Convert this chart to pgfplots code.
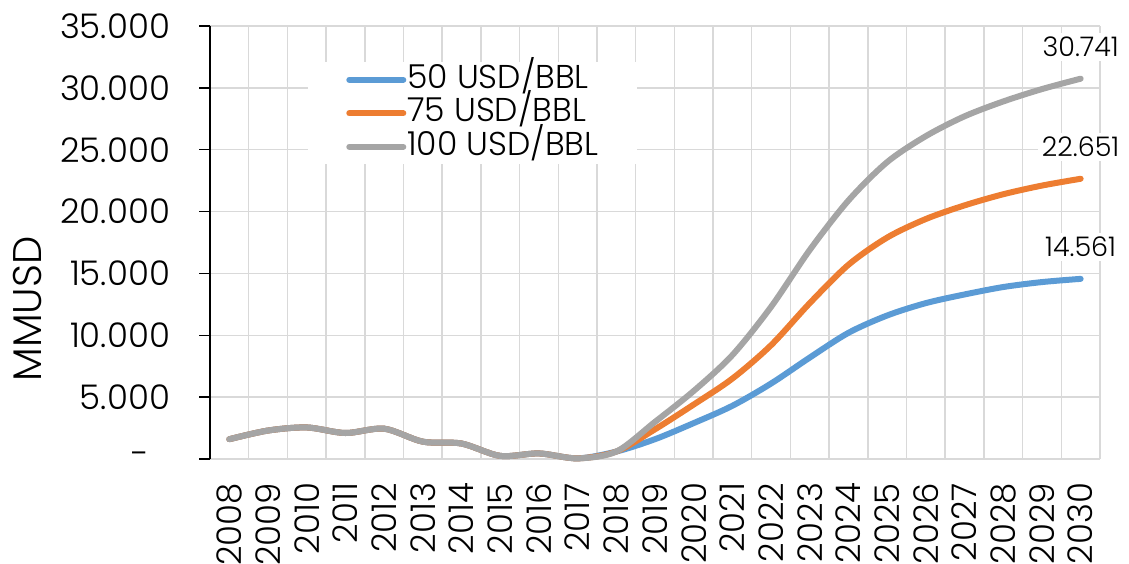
\documentclass[border=0pt]{standalone}
\usepackage{fontspec}
\IfFontExistsTF{Poppins Light}{\setmainfont{Poppins Light}}{\setmainfont{Poppins}}
\usepackage{pgfplots}
\usepackage{pgfplotstable}
\pgfplotsset{compat=1.18}

\definecolor{s50}{HTML}{5B9BD5}
\definecolor{s75}{HTML}{ED7D31}
\definecolor{s100}{HTML}{A5A5A5}
\definecolor{gridc}{HTML}{D9D9D9}

% MMUSD by year for each oil price scenario
\pgfplotstableread{
year p50 p75 p100
2008 1600 1600 1600
2009 2300 2300 2300
2010 2550 2550 2550
2011 2100 2100 2100
2012 2450 2450 2450
2013 1400 1400 1400
2014 1250 1250 1250
2015 250 250 250
2016 450 450 450
2017 50 50 50
2018 600 600 600
2019 1600 2400 3000
2020 2900 4400 5500
2021 4300 6500 8400
2022 6100 9200 12300
2023 8200 12600 16900
2024 10200 15700 20900
2025 11600 17900 24000
2026 12600 19400 26100
2027 13300 20500 27700
2028 13900 21400 28900
2029 14300 22100 29900
2030 14561 22651 30741
}\capex

\begin{document}
\begin{tikzpicture}
\begin{axis}[
  scale only axis, width=445pt, height=216.5pt,
  xmin=2007.5, xmax=2030.5, ymin=0, ymax=35000,
  clip=false,
  scaled y ticks=false,
  /pgf/number format/assume math mode=true,
  axis x line=bottom, axis y line=left,
  x axis line style={gridc, line width=0.75pt, -},
  y axis line style={black, line width=0.75pt, -},
  xtick={2008,2009,...,2030},
  minor xtick={2008.5,2009.5,2010.5,2011.5,2012.5,2013.5,2014.5,2015.5,2016.5,2017.5,2018.5,2019.5,2020.5,2021.5,2022.5,2023.5,2024.5,2025.5,2026.5,2027.5,2028.5,2029.5,2030.5},
  xtick style={draw=none},
  xmajorgrids=false, xminorgrids=true, ymajorgrids=true,
  major grid style={gridc, line width=0.75pt},
  minor grid style={gridc, line width=0.75pt},
  ytick={0,5000,...,35000},
  yticklabels={-\hphantom{0},5.000,10.000,15.000,20.000,25.000,30.000,35.000},
  ytick style={black, line width=0.75pt},
  tick align=outside, major tick length=5.5pt,
  yticklabel style={font=\fontsize{17}{19}\selectfont},
  yticklabel shift=11pt,
  xticklabel style={rotate=90, anchor=east, font=\fontsize{17}{19}\selectfont, /pgf/number format/1000 sep={}},
  xticklabel shift=3pt,
  ylabel={MMUSD},
  ylabel style={at={(axis description cs:-0.2056,0.346)}, anchor=center, font=\fontsize{20}{23}\selectfont},
  legend style={draw=none, fill=white, at={(0.11,0.917)}, anchor=north west,
    font=\fontsize{16.5}{18}\selectfont, inner xsep=19pt, inner ysep=1pt,
    nodes={inner xsep=0.5pt, inner ysep=0pt, text height=12pt, text depth=3.5pt, anchor=west},
    row sep=1.25pt},
  legend cell align=left,
  legend image code/.code={\draw[#1, line cap=round] (0pt,0pt) -- (27pt,0pt);},
]
\coordinate (sw) at (rel axis cs:0,0);
\coordinate (ne) at (rel axis cs:1,1);
\addplot[s50, line width=3pt, smooth, line cap=round] table[x=year, y=p50]{\capex};
\addlegendentry{50 USD/BBL}
\addplot[s75, line width=3pt, smooth, line cap=round] table[x=year, y=p75]{\capex};
\addlegendentry{75 USD/BBL}
\addplot[s100, line width=3pt, smooth, line cap=round] table[x=year, y=p100]{\capex};
\addlegendentry{100 USD/BBL}
\node[fill=white, inner sep=2pt, font=\fontsize{13.5}{15}\selectfont, yshift=16pt] at (axis cs:2030,30741) {30.741};
\node[fill=white, inner sep=2pt, font=\fontsize{13.5}{15}\selectfont, yshift=16pt] at (axis cs:2030,22651) {22.651};
\node[fill=white, inner sep=2pt, font=\fontsize{13.5}{15}\selectfont, yshift=16pt] at (axis cs:2030,14561) {14.561};
\end{axis}
\pgfresetboundingbox
\useasboundingbox ([xshift=-105pt,yshift=-52.5pt]sw) rectangle ([xshift=14.5pt,yshift=13pt]ne);
\end{tikzpicture}
\end{document}
